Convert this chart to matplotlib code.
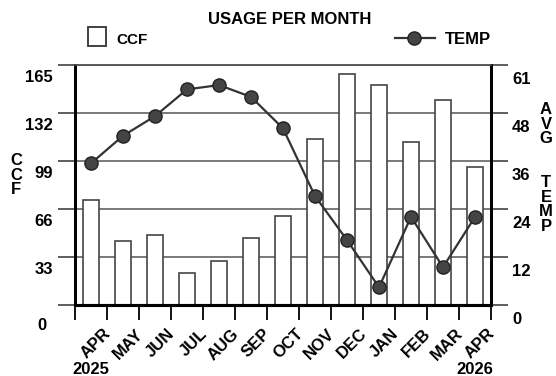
import matplotlib
matplotlib.use('Agg')
import matplotlib.pyplot as plt
import numpy as np
from matplotlib.transforms import ScaledTranslation, blended_transform_factory
from matplotlib.patches import Rectangle
from matplotlib.lines import Line2D

# ---------------- data ----------------
months = ['APR', 'MAY', 'JUN', 'JUL', 'AUG', 'SEP', 'OCT', 'NOV', 'DEC', 'JAN', 'FEB', 'MAR', 'APR']
ccf = [72, 44, 48, 22, 30, 46, 61, 114, 159, 151, 112, 141, 95]
temp = [36, 43, 48, 54.8, 55.9, 52.9, 44.9, 27.7, 16.5, 4.5, 22.4, 9.6, 22.4]
ccf_ticks = [0, 33, 66, 99, 132, 165]
temp_tick_labels = ['0', '12', '24', '36', '48', '61']
temp_max = 61
years = ['2025', '2026']
title = 'USAGE PER MONTH'
left_label = 'C\nC\nF'
right_label = 'A\nV\nG\n\n\nT\nE\nM\nP'

plt.rcParams['font.family'] = ['Liberation Sans', 'DejaVu Sans']
plt.rcParams['font.weight'] = 'bold'

W, H = 556, 376
fig = plt.figure(figsize=(W / 100, H / 100), dpi=100)
ax = fig.add_axes([75 / W, 71 / H, 416 / W, 240 / H])
ax2 = ax.twinx()

x = np.arange(len(months))
ax.set_xlim(-0.5, len(months) - 0.5)
ax.set_ylim(0, ccf_ticks[-1])
ax2.set_ylim(0, temp_max)

# gridlines
ax.set_yticks(ccf_ticks)
ax.yaxis.grid(True, color='#555555', lw=1.1)
ax.set_axisbelow(True)

# bars
ax.bar(x, ccf, width=0.52, color='white', edgecolor='#444444', lw=1.2, zorder=2)

# temperature line
ax2.plot(x, temp, color='#333333', lw=1.6, marker='o', markersize=9.5,
         markerfacecolor='#444444', markeredgecolor='#222222', markeredgewidth=1, zorder=3)

# ticks
ax.set_xticks(np.arange(-0.5, len(months), 1))
ax.tick_params(axis='x', length=11, width=1.3, color='black', labelbottom=False)
ax.tick_params(axis='y', length=12, width=1.1, color='#333333', labelleft=False)
ax2.set_yticks(np.linspace(0, temp_max, len(temp_tick_labels)))
ax2.tick_params(axis='y', length=12, width=1.1, color='#333333', labelright=False)

for a in (ax, ax2):
    a.spines['top'].set_color('#555555')
    a.spines['top'].set_linewidth(1.1)
    a.spines['left'].set_linewidth(2)
    a.spines['right'].set_linewidth(2)
    a.spines['bottom'].set_linewidth(2.2)

fs = 12
# left tick labels
tl = blended_transform_factory(ax.transAxes, ax.transData)
for v in ccf_ticks:
    dx, dy = (-28, -20) if v == 0 else (-22, -12)
    ax.text(0, v, str(v), transform=tl + ScaledTranslation(dx / 100, dy / 100, fig.dpi_scale_trans),
            ha='right', va='center', fontsize=fs)
# right tick labels
tr = blended_transform_factory(ax2.transAxes, ax2.transData)
for v, lab in zip(np.linspace(0, temp_max, len(temp_tick_labels)), temp_tick_labels):
    ax2.text(1, v, lab, transform=tr + ScaledTranslation(21 / 100, -14 / 100, fig.dpi_scale_trans),
             ha='left', va='center', fontsize=fs)

# month labels
tb = blended_transform_factory(ax.transData, ax.transAxes)
for i, m in enumerate(months):
    ax.text(i + 0.5, 0, m, transform=tb + ScaledTranslation(-4 / 100, -21 / 100, fig.dpi_scale_trans),
            rotation=45, rotation_mode='anchor', ha='right', va='top', fontsize=fs)
# years
for i, yr in zip([0, len(months) - 1], years):
    ax.text(i, 0, yr, transform=tb + ScaledTranslation(0, -64 / 100, fig.dpi_scale_trans),
            ha='center', va='center', fontsize=fs)

# axis titles
fig.text(16 / W, 1 - 175 / H, left_label, ha='center', va='center', fontsize=12, linespacing=0.96)
fig.text(546 / W, 1 - 168 / H, right_label, ha='center', va='center', fontsize=12, linespacing=0.96)

# title
fig.text(290 / W, 1 - 20 / H, title, ha='center', va='center', fontsize=fs)

# legend
fig.patches.append(Rectangle((88 / W, 1 - 46 / H), 18 / W, 19 / H, transform=fig.transFigure,
                             facecolor='white', edgecolor='#333333', lw=1.3))
fig.text(116 / W, 1 - 40 / H, 'CCF', ha='left', va='center', fontsize=11)
fig.lines.append(Line2D([395 / W, 435 / W], [1 - 38 / H, 1 - 38 / H], transform=fig.transFigure,
                        color='#333333', lw=1.6))
fig.lines.append(Line2D([414 / W], [1 - 38 / H], transform=fig.transFigure, marker='o', markersize=9.5,
                        markerfacecolor='#444444', markeredgecolor='#222222', color='#333333'))
fig.text(445 / W, 1 - 39 / H, 'TEMP', ha='left', va='center', fontsize=fs)

fig.savefig('out.png', dpi=100)
